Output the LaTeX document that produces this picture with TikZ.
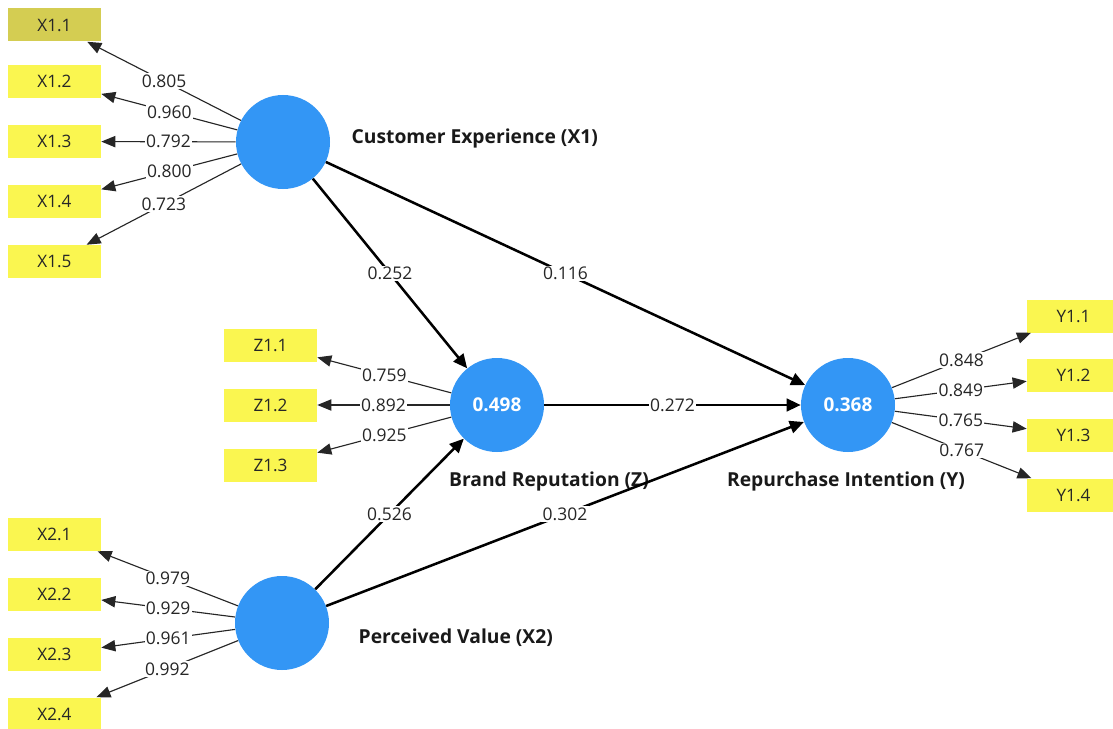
\documentclass[tikz,border=0pt]{standalone}
\usepackage{fontspec}
\setmainfont{Open Sans}
\usetikzlibrary{arrows.meta}
\definecolor{lvblue}{RGB}{51,150,245}
\definecolor{indyel}{RGB}{250,246,80}
\definecolor{selyel}{RGB}{212,205,82}
\newdimen\px \px=0.025cm
\begin{document}
\begin{tikzpicture}[x=1\px,y=-1\px, font=\fontsize{12.4}{14}\selectfont,
  ind/.style={fill=indyel, minimum width=93\px, minimum height=33\px, inner sep=0pt, text=black!85, font=\fontsize{12.2}{14}\selectfont},
  lv/.style={circle, fill=lvblue, minimum size=94\px, inner sep=0pt, text=white, font=\fontsize{13.5}{15}\selectfont\bfseries},
  lvname/.style={font=\fontsize{13.7}{16}\selectfont\bfseries, text=black!90, inner sep=1pt},
  meas/.style={draw=black!85, line width=0.8pt, -{Triangle[length=10pt,width=8pt]}},
  struct/.style={draw=black, line width=1.8pt, -{Triangle[length=10pt,width=9pt]}},
  wt/.style={fill=white, inner sep=1pt, text=black!85}
]
\clip (0,0) rectangle (1113,729);
\fill[white] (0,0) rectangle (1113,729);
% indicators
\node[ind, fill=selyel] (x11) at (54.5,25) {X1.1};
\node[ind] (x12) at (54.5,81.5) {X1.2};
\node[ind] (x13) at (54.5,141.5) {X1.3};
\node[ind] (x14) at (54.5,201.5) {X1.4};
\node[ind] (x15) at (54.5,261.5) {X1.5};
\node[ind] (z11) at (270.5,345) {Z1.1};
\node[ind] (z12) at (270.5,405) {Z1.2};
\node[ind] (z13) at (270.5,465) {Z1.3};
\node[ind] (y11) at (1073.5,316) {Y1.1};
\node[ind] (y12) at (1073.5,375) {Y1.2};
\node[ind] (y13) at (1073.5,435) {Y1.3};
\node[ind] (y14) at (1073.5,495) {Y1.4};
\node[ind] (x21) at (54.5,534.5) {X2.1};
\node[ind] (x22) at (54.5,594) {X2.2};
\node[ind] (x23) at (54.5,654) {X2.3};
\node[ind] (x24) at (54.5,714) {X2.4};
% latent variables
\node[lv] (X1) at (283,142) {};
\node[lv] (Z) at (497,405) {0.498};
\node[lv] (Y) at (848,405) {0.368};
\node[lv] (X2) at (282,623) {};
% names
\node[lvname, anchor=west] (lx1) at (350,138) {Customer Experience (X1)};
\node[lvname] (lz) at (549,481) {Brand Reputation (Z)};
\node[lvname] (ly) at (846,481) {Repurchase Intention (Y)};
\node[lvname, anchor=west] (lx2) at (357,638) {Perceived Value (X2)};
% measurement model
\draw[meas] (X1) -- node[wt]{0.805} (x11);
\draw[meas] (X1) -- node[wt]{0.960} (x12);
\draw[meas] (X1) -- node[wt]{0.792} (x13);
\draw[meas] (X1) -- node[wt]{0.800} (x14);
\draw[meas] (X1) -- node[wt]{0.723} (x15);
\draw[meas] (Z) -- node[wt]{0.759} (z11);
\draw[meas] (Z) -- node[wt]{0.892} (z12);
\draw[meas] (Z) -- node[wt]{0.925} (z13);
\draw[meas] (Y) -- node[wt]{0.848} (y11);
\draw[meas] (Y) -- node[wt]{0.849} (y12);
\draw[meas] (Y) -- node[wt]{0.765} (y13);
\draw[meas] (Y) -- node[wt]{0.767} (y14);
\draw[meas] (X2) -- node[wt]{0.979} (x21);
\draw[meas] (X2) -- node[wt]{0.929} (x22);
\draw[meas] (X2) -- node[wt]{0.961} (x23);
\draw[meas] (X2) -- node[wt]{0.992} (x24);
% structural model
\draw[struct] (X1) -- node[wt]{0.252} (Z);
\draw[struct] (X1) -- node[wt]{0.116} (Y);
\draw[struct] (Z) -- node[wt]{0.272} (Y);
\draw[struct] (X2) -- node[wt]{0.526} (Z);
\draw[struct] (X2) -- node[wt]{0.302} (Y);
\end{tikzpicture}
\end{document}
